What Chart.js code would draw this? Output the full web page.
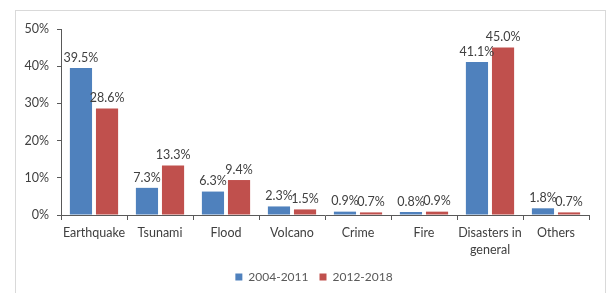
<!DOCTYPE html>
<html>
<head>
<meta charset="utf-8">
<script src="https://cdn.jsdelivr.net/npm/chart.js@4"></script>
<style>
  html, body { margin: 0; padding: 0; background: #fff; }
  #wrap { position: relative; width: 606px; height: 293px; }
  #frame { position: absolute; left: 15px; top: 10px; width: 589px; height: 290px; border: 1px solid #d9d9d9; pointer-events: none; }
</style>
</head>
<body>
<div id="wrap">
  <canvas id="myChart" width="606" height="293"></canvas>
  <div id="frame"></div>
</div>
<script>
  const labels = ['Earthquake', 'Tsunami', 'Flood', 'Volcano', 'Crime', 'Fire', ['Disasters in', 'general'], 'Others'];
  const period1 = [39.5, 7.3, 6.3, 2.3, 0.9, 0.8, 41.1, 1.8];
  const period2 = [28.6, 13.3, 9.4, 1.5, 0.7, 0.9, 45.0, 0.7];
  const yTicks = [0, 10, 20, 30, 40, 50];

  const textColor = '#404040';
  const axisColor = '#595959';
  const fontFamily = 'Lato, "Open Sans", sans-serif';

  // value labels above each bar
  const barLabels = {
    id: 'barLabels',
    afterDatasetsDraw(chart) {
      const c = chart.ctx;
      c.save();
      c.font = '12.5px ' + fontFamily;
      c.fillStyle = textColor;
      c.textAlign = 'center';
      c.textBaseline = 'bottom';
      chart.data.datasets.forEach((ds, i) => {
        chart.getDatasetMeta(i).data.forEach((bar, j) => {
          c.fillText(ds.data[j].toFixed(1) + '%', bar.x, bar.y - 4);
        });
      });
      c.restore();
    }
  };

  // nudge legend a little to the right like the original
  const legendShift = {
    id: 'legendShift',
    afterLayout(chart) {
      chart.legend.left += 9;
      chart.legend.right += 9;
    }
  };

  const ctx = document.getElementById('myChart');

  new Chart(ctx, {
    type: 'bar',
    data: {
      labels: labels,
      datasets: [{
        label: '2004-2011',
        data: period1,
        backgroundColor: '#4f81bd',
        borderWidth: 0,
        categoryPercentage: 0.79,
        barPercentage: 0.85
      }, {
        label: '2012-2018',
        data: period2,
        backgroundColor: '#c0504d',
        borderWidth: 0,
        categoryPercentage: 0.79,
        barPercentage: 0.85
      }]
    },
    options: {
      responsive: false,
      animation: false,
      layout: {
        padding: { left: 21, right: 17, top: 29, bottom: 0 }
      },
      plugins: {
        legend: {
          position: 'bottom',
          labels: {
            boxWidth: 7,
            boxHeight: 7,
            padding: 11,
            color: '#595959',
            font: { family: fontFamily, size: 12 }
          }
        },
        tooltip: { enabled: false },
        title: { display: false }
      },
      scales: {
        x: {
          grid: {
            display: true,
            drawOnChartArea: false,
            drawTicks: true,
            tickLength: 5,
            color: axisColor
          },
          border: { color: axisColor, width: 1 },
          ticks: {
            color: textColor,
            font: { family: fontFamily, size: 12.5, lineHeight: 1.4 },
            padding: 4,
            maxRotation: 0,
            autoSkip: false
          },
          afterFit(scale) { scale.height = 45; }
        },
        y: {
          min: 0,
          max: 50,
          afterBuildTicks(scale) { scale.ticks = yTicks.map(v => ({ value: v })); },
          grid: {
            display: true,
            drawOnChartArea: false,
            drawTicks: true,
            tickLength: 4,
            color: axisColor
          },
          border: { color: axisColor, width: 1 },
          ticks: {
            color: textColor,
            font: { family: fontFamily, size: 12.5 },
            padding: 8,
            callback: v => v + '%'
          },
          afterFit(scale) { scale.width = 40; }
        }
      }
    },
    plugins: [barLabels, legendShift]
  });
</script>
</body>
</html>
